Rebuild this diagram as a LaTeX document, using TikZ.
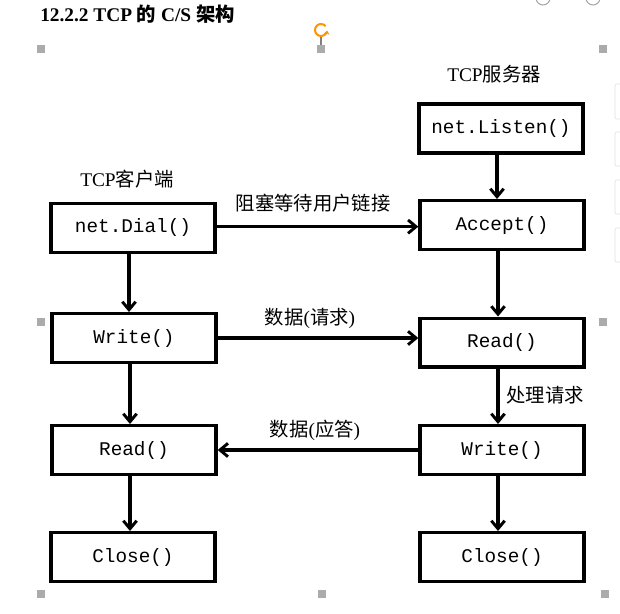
\documentclass[tikz,border=0pt]{standalone}
\usepackage{fontspec}
\setmainfont{Liberation Serif}
\newfontfamily\cjk{Noto Sans CJK SC}
\newfontfamily\codefont{Liberation Mono}
\usetikzlibrary{arrows.meta}

\tikzset{
  fn/.style={draw=black, line width=2.5pt, minimum width=123pt, minimum height=36.5pt,
    inner sep=0pt, font=\codefont\fontsize{14.5}{16}\selectfont},
  flow/.style={line width=2.4pt, -{Straight Barb[length=6pt,width=10pt,line width=2.2pt]}},
  lbl/.style={font=\cjk\fontsize{14.5}{16}\selectfont, inner sep=0pt},
  handle/.style={fill=black!33, draw=none, minimum size=6pt, inner sep=0pt},
  uibox/.style={draw=black!12, line width=0.6pt, rounded corners=1pt}
}

\begin{document}
\begin{tikzpicture}[x=0.75pt,y=-0.75pt]
  \useasboundingbox[fill=white] (0,0) rectangle (620,613);

  % heading
  \node[anchor=west, inner sep=0pt, font=\bfseries\fontsize{14.5}{16}\selectfont] (title) at (40,14)
    {12.2.2 TCP {\cjk\bfseries 的} C/S {\cjk\bfseries 架构}};

  % editor chrome around the frame
  \draw[black!35, line width=0.8pt] (543,-2) circle (7);
  \draw[black!35, line width=0.8pt] (593,-2) circle (7);
  \foreach \ya/\yb in {84/119, 132/166, 180/214, 228/262}
    \draw[uibox] (630,\ya) rectangle (615,\yb);
  \draw[black!50, line width=0.8pt] (321,37) -- (321,46);
  \begin{scope}[shift={(321,30)}, x=1pt, y=1pt]
    \draw[orange!85!yellow, line width=1.5pt, -{Stealth[length=3pt,width=4.5pt]}]
      (40:4.5) arc[start angle=40, end angle=355, radius=4.5];
  \end{scope}
  \foreach \hx/\hy in {41/49, 321/49, 603/49, 41/322, 603/322, 41/594, 322/594, 605/594}
    \node[handle] at (\hx,\hy) {};

  % side captions
  \node[lbl] (srv) at (494,74) {{\rmfamily TCP}服务器};
  \node[lbl] (cli) at (127,179) {{\rmfamily TCP}客户端};

  % server side
  \node[fn] (listen) at (501,128.5) {net.Listen()};
  \node[fn] (accept) at (502,225) {Accept()};
  \node[fn] (rread)  at (502,342.5) {Read()};
  \node[fn] (rwrite) at (502,450) {Write()};
  \node[fn] (rclose) at (502,557) {Close()};

  % client side
  \node[fn] (dial)   at (133,228) {net.Dial()};
  \node[fn] (lwrite) at (134,338) {Write()};
  \node[fn] (lread)  at (134,450) {Read()};
  \node[fn] (lclose) at (133,557) {Close()};

  % vertical flow
  \draw[flow] ([xshift=-3pt]listen.south) -- ([xshift=-3pt]listen.south |- accept.north);
  \draw[flow] ([xshift=-3pt]accept.south) -- ([xshift=-3pt]accept.south |- rread.north);
  \draw[flow] ([xshift=-3pt]rread.south) -- ([xshift=-3pt]rread.south |- rwrite.north);
  \draw[flow] ([xshift=-3pt]rwrite.south) -- ([xshift=-3pt]rwrite.south |- rclose.north);
  \draw[flow] ([xshift=-3pt]dial.south) -- ([xshift=-3pt]dial.south |- lwrite.north);
  \draw[flow] ([xshift=-3pt]lwrite.south) -- ([xshift=-3pt]lwrite.south |- lread.north);
  \draw[flow] ([xshift=-3pt]lread.south) -- ([xshift=-3pt]lread.south |- lclose.north);

  % exchanges between client and server
  \draw[flow] ([yshift=1pt]dial.east) -- ([yshift=1pt]dial.east -| accept.west);
  \draw[flow] (lwrite.east) -- (lwrite.east -| rread.west);
  \draw[flow] (rwrite.west) -- (rwrite.west -| lread.east);

  \node[lbl] (l1) at (313,203) {阻塞等待用户链接};
  \node[lbl] (l2) at (310,318) {数据{\rmfamily (}请求{\rmfamily )}};
  \node[lbl] (l3) at (315,430) {数据{\rmfamily (}应答{\rmfamily )}};
  \node[lbl] (l4) at (545,395) {处理请求};
\end{tikzpicture}
\end{document}
